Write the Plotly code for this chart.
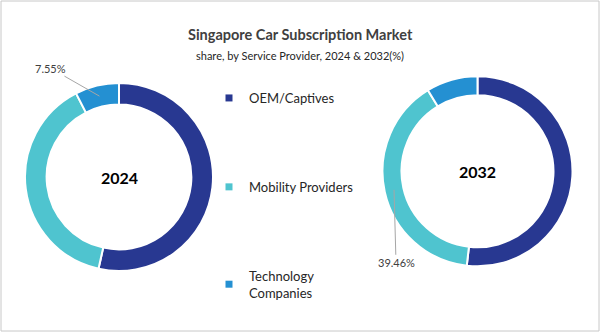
import math
import plotly.graph_objects as go

W, H = 600, 332

# ---- data ----
providers = ["OEM/Captives", "Mobility Providers", "Technology Companies"]
legend_labels = ["OEM/Captives", "Mobility Providers", "Technology<br>Companies"]
share_2024 = [53.5, 38.95, 7.55]
share_2032 = [51.8, 39.46, 8.74]
years = ["2024", "2032"]
colors = ["#283891", "#4fc4cf", "#2490d2"]
labelled_slice = {"2024": 2, "2032": 1}   # slice index carrying a value label

# ---- layout geometry (pixels) ----
donuts = [
    dict(year="2024", values=share_2024, cx=119, cy=177, r=94, hole=0.77,
         label_dx=-49, label_dy=-28),
    dict(year="2032", values=share_2032, cx=477.5, cy=171.3, r=95, hole=0.80,
         label_dx=2, label_dy=73),
]

fig = go.Figure()
annotations = []

for d in donuts:
    cx, cy, r = d["cx"], d["cy"], d["r"]
    dom_x = [(cx - r) / W, (cx + r) / W]
    dom_y = [1 - (cy + r) / H, 1 - (cy - r) / H]
    fig.add_trace(go.Pie(
        labels=providers, values=d["values"], hole=d["hole"],
        sort=False, direction="clockwise", rotation=0,
        marker=dict(colors=colors, line=dict(color="white", width=2)),
        textinfo="none", hoverinfo="label+percent", showlegend=False,
        domain=dict(x=dom_x, y=dom_y),
    ))
    # centre year label
    annotations.append(dict(
        x=cx / W, y=1 - cy / H, xref="paper", yref="paper",
        xanchor="center", yanchor="middle",
        text="<b>%s</b>" % d["year"], showarrow=False,
        font=dict(family="Lato", size=16, color="#000000"),
    ))
    # value label with leader line, pointing at the middle of the slice
    idx = labelled_slice[d["year"]]
    vals = d["values"]
    total = sum(vals)
    start = sum(vals[:idx]) / total
    mid = (start + vals[idx] / total / 2) * 2 * math.pi  # clockwise from top
    rr = r * (1 + d["hole"]) / 2
    px = cx + rr * math.sin(mid)
    py = cy - rr * math.cos(mid)
    annotations.append(dict(
        x=px / W, y=1 - py / H, xref="paper", yref="paper",
        text="%.2f%%" % vals[idx], showarrow=True, arrowhead=0,
        arrowwidth=1, arrowcolor="#a6a6a6", standoff=0,
        ax=d["label_dx"], ay=d["label_dy"],
        font=dict(family="Lato", size=11, color="#404040"),
    ))

# legend entries via dummy traces so spacing can be controlled
for name, c in zip(legend_labels, colors):
    fig.add_trace(go.Scatter(
        x=[None], y=[None], mode="markers", name=name, legendgroup=name,
        marker=dict(symbol="square", size=7, color=c),
        hoverinfo="skip",
    ))

annotations.append(dict(
    x=0.5, y=1 - 35 / H, xref="paper", yref="paper",
    xanchor="center", yanchor="middle",
    text="<b>Singapore Car Subscription Market</b>", showarrow=False,
    font=dict(family="Lato", size=14.5, color="#404040"),
))
annotations.append(dict(
    x=0.5, y=1 - 55 / H, xref="paper", yref="paper",
    xanchor="center", yanchor="middle",
    text="share, by Service Provider, 2024 & 2032(%)", showarrow=False,
    font=dict(family="Lato", size=11, color="#262626"),
))

fig.update_layout(
    width=W, height=H,
    margin=dict(l=0, r=0, t=0, b=0),
    paper_bgcolor="white", plot_bgcolor="white",
    xaxis=dict(visible=False), yaxis=dict(visible=False),
    showlegend=True,
    legend=dict(
        x=209 / W, y=1 - 83 / H, xanchor="left", yanchor="top",
        tracegroupgap=69, font=dict(family="Lato", size=13, color="#262626"),
        bgcolor="rgba(0,0,0,0)",
    ),
    annotations=annotations,
    shapes=[dict(type="rect", xref="paper", yref="paper",
                 x0=1 / W, y0=1 / H, x1=1 - 1 / W, y1=1 - 1 / H,
                 line=dict(color="#c8c8c8", width=1))],
)

fig.write_html("out.html")
